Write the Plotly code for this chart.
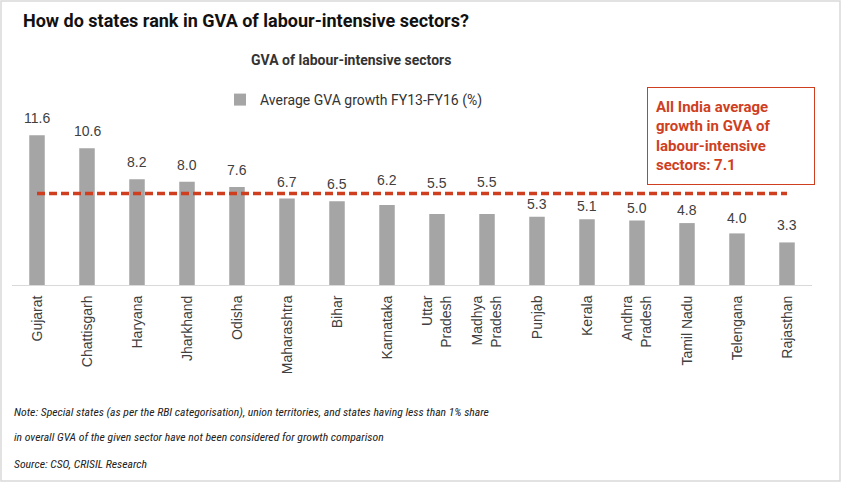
import plotly.graph_objects as go

states = ["Gujarat", "Chattisgarh", "Haryana", "Jharkhand", "Odisha", "Maharashtra",
          "Bihar", "Karnataka", "Uttar<br>Pradesh", "Madhya<br>Pradesh", "Punjab",
          "Kerala", "Andhra<br>Pradesh", "Tamil Nadu", "Telengana", "Rajasthan"]
growth = [11.6, 10.6, 8.2, 8.0, 7.6, 6.7, 6.5, 6.2, 5.5, 5.5, 5.3, 5.1, 5.0, 4.8, 4.0, 3.3]
india_avg = 7.1

title = "How do states rank in GVA of labour-intensive sectors?"
subtitle = "GVA of labour-intensive sectors"
series_name = "Average GVA growth FY13-FY16 (%)"
box_text = "All India average<br>growth in GVA of<br>labour-intensive<br>sectors: 7.1"
note1 = "Note: Special states (as per the RBI categorisation), union territories, and states having less than 1% share"
note2 = "in overall GVA of the given sector have not been considered for growth comparison"
source = "Source: CSO, CRISIL Research"

# pixel offsets of the value labels above the bar tops (style only)
label_shift = [17, 17, 17, 17, 17, 17, 17, 25, 31, 32, 13, 13, 13, 13, 15, 17]

RED = "#CF3F1F"
GRAY = "#A5A5A5"
TXT = "#404040"

W, H = 842, 483
L, R, T, B = 12, 30, 110, 198
PW, PH = W - L - R, H - T - B

def px(x):
    return (x - L) / PW

def py(y):
    return (H - B - y) / PH

fig = go.Figure()
fig.add_trace(go.Bar(x=states, y=growth, name=series_name, marker_color=GRAY,
                     marker_line_width=0, showlegend=True))
fig.add_trace(go.Scatter(x=states, y=[india_avg] * len(states), mode="lines",
                         line=dict(color=RED, width=3.5, dash="8px,4px"),
                         showlegend=False, hoverinfo="skip"))

for s, v, sh in zip(states, growth, label_shift):
    fig.add_annotation(x=s, y=v, text=f"{v:.1f}", showarrow=False, yanchor="middle",
                       yshift=sh, font=dict(family="Liberation Sans, Arial", size=14, color=TXT))

fig.add_annotation(xref="paper", yref="paper", x=px(21), y=py(20), xanchor="left",
                   yanchor="middle", text=f"<b>{title}</b>", showarrow=False,
                   font=dict(family="Roboto", size=18, color="#111111"))
fig.add_annotation(xref="paper", yref="paper", x=px(351), y=py(60), xanchor="center",
                   yanchor="middle", text=f"<b>{subtitle}</b>", showarrow=False,
                   font=dict(family="Roboto", size=14, color="#333333"))
fig.add_annotation(xref="paper", yref="paper", x=px(647), y=py(87), xanchor="left",
                   yanchor="top", text=f"<b>{box_text}</b>", showarrow=False, align="left",
                   bordercolor=RED, borderwidth=1, borderpad=8, width=150, height=80,
                   font=dict(family="Roboto", size=15, color=RED))
for txt, yy in [(note1, 412), (note2, 437), (source, 464)]:
    fig.add_annotation(xref="paper", yref="paper", x=px(12), y=py(yy), xanchor="left",
                       yanchor="middle", text=f"<i>{txt}</i>", showarrow=False,
                       font=dict(family="Liberation Sans Narrow, Roboto Condensed, Roboto", size=11.7, color="#222222"))

fig.add_shape(type="rect", xref="paper", yref="paper", x0=px(1), x1=px(840), y0=py(481), y1=py(1),
              line=dict(color="#D9D9D9", width=1.5), fillcolor="rgba(0,0,0,0)", layer="below")

fig.update_layout(
    width=W, height=H, margin=dict(l=L, r=R, t=T, b=B),
    paper_bgcolor="white", plot_bgcolor="white", bargap=0.69,
    legend=dict(orientation="h", x=px(220), y=py(100), xanchor="left", yanchor="middle",
                font=dict(family="Roboto", size=14, color="#333333"), itemwidth=30,
                bgcolor="rgba(0,0,0,0)"),
    xaxis=dict(showline=True, linecolor="#D9D9D9", linewidth=1, tickangle=-90, ticks="",
               tickfont=dict(family="Liberation Sans, Arial", size=14, color=TXT),
               ticklabelstandoff=4, fixedrange=True),
    yaxis=dict(range=[0, 175 / 12.9], visible=False, showgrid=False, fixedrange=True),
)

fig.write_html("out.html", config={"displayModeBar": False},
               post_script="document.body.style.margin='0';")
